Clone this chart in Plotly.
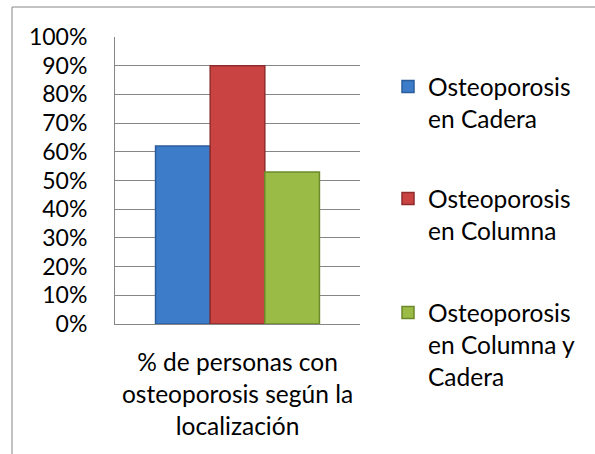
import plotly.graph_objects as go

category = ["% de personas con<br>osteoporosis según la<br>localización"]
series_names = [
    "Osteoporosis<br>en Cadera",
    "Osteoporosis<br>en Columna",
    "Osteoporosis<br>en Columna y<br>Cadera",
]
series_values = [0.62, 0.90, 0.53]
series_colors = ["#3d7cc9", "#c94343", "#9bbb47"]
series_lines = ["#2b5d9c", "#8f2c2c", "#6c8a2c"]
y_ticks = [0, 0.1, 0.2, 0.3, 0.4, 0.5, 0.6, 0.7, 0.8, 0.9, 1.0]
y_ticklabels = ["0%", "10%", "20%", "30%", "40%", "50%", "60%", "70%", "80%", "90%", "100%"]

W, H = 595, 454
FONT = "Lato"
FS = 24.5

fig = go.Figure()
legend_names = ["legend", "legend2", "legend3"]
for name, val, col, lc, lg in zip(series_names, series_values, series_colors, series_lines, legend_names):
    fig.add_trace(go.Bar(
        x=category, y=[val], name=name, legend=lg,
        marker=dict(color=col, line=dict(color=lc, width=1.5)),
    ))

def legend_cfg(ytop):
    return dict(
        x=388 / W, y=1 - ytop / H, xanchor="left", yanchor="top",
        valign="top", bgcolor="rgba(0,0,0,0)",
        font=dict(family=FONT, size=FS, color="#000000"),
        itemwidth=30,
    )

fig.update_layout(
    width=W, height=H,
    margin=dict(l=0, r=0, t=0, b=0, autoexpand=False),
    paper_bgcolor="white", plot_bgcolor="white",
    barmode="group", bargap=0.331, bargroupgap=0,
    font=dict(family=FONT, size=FS, color="#000000"),
    showlegend=True,
    legend=legend_cfg(64),
    legend2=legend_cfg(176),
    legend3=legend_cfg(290),
    xaxis=dict(
        domain=[115 / W, 360 / W], automargin=False,
        showgrid=False, showline=True, linecolor="#868686", linewidth=1,
        ticks="", tickfont=dict(family=FONT, size=FS),
        ticklabelstandoff=17,
    ),
    yaxis=dict(
        domain=[1 - 324 / H, 1 - 37 / H], automargin=False,
        range=[0, 1.0],
        tickvals=y_ticks, ticktext=y_ticklabels,
        showgrid=True, gridcolor="#868686", gridwidth=1,
        showline=True, linecolor="#868686", linewidth=1,
        ticks="", tickfont=dict(family=FONT, size=23),
        ticklabelstandoff=22, zeroline=False,
    ),
    shapes=[
        dict(type="path", xref="paper", yref="paper",
             path=f"M {12/W},0 L {12/W},{1-7/H} L 1,{1-7/H}",
             line=dict(color="#868686", width=1)),
    ],
)

fig.write_html("out.html", config={"displayModeBar": False},
               post_script="document.body.style.margin='0px';")
